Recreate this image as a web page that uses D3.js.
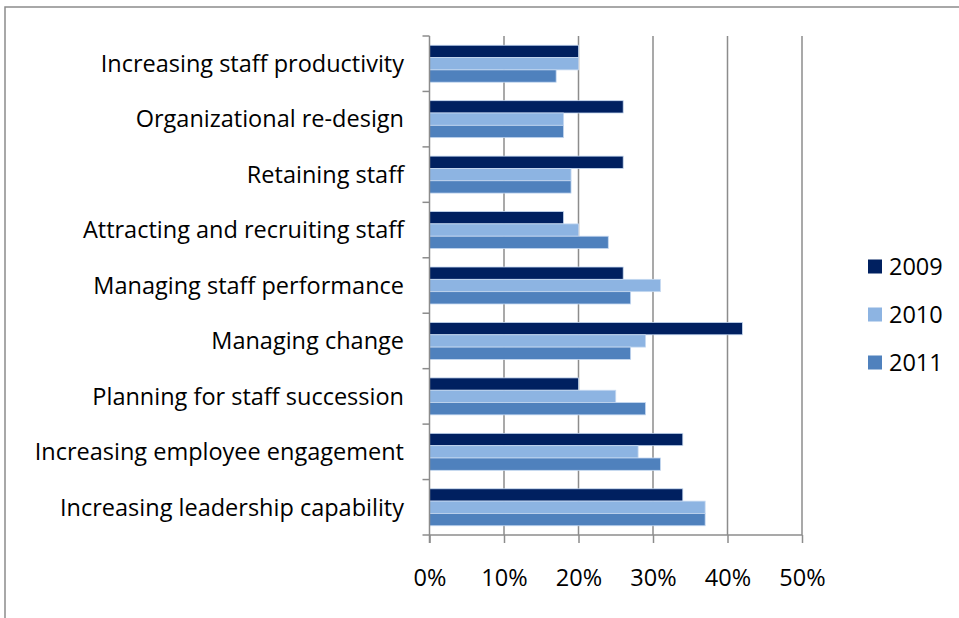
<!DOCTYPE html>
<html>
<head>
<meta charset="utf-8">
<script src="https://cdn.jsdelivr.net/npm/d3@7"></script>
<style>
  html, body { margin: 0; padding: 0; background: #fff; }
  svg text { font-family: "Open Sans", Lato, sans-serif; fill: #000; }
</style>
</head>
<body>
<svg id="chart" width="959" height="618"></svg>
<script>
const categories = [
  "Increasing staff productivity",
  "Organizational re-design",
  "Retaining staff",
  "Attracting and recruiting staff",
  "Managing staff performance",
  "Managing change",
  "Planning for staff succession",
  "Increasing employee engagement",
  "Increasing leadership capability"
];
const seriesNames = ["2009", "2010", "2011"];
const values2009 = [20, 26, 26, 18, 26, 42, 20, 34, 34];
const values2010 = [20, 18, 19, 20, 31, 29, 25, 28, 37];
const values2011 = [17, 18, 19, 24, 27, 27, 29, 31, 37];
const seriesColors = ["#002060", "#8DB4E2", "#4F81BD"];
const xTicks = [0, 10, 20, 30, 40, 50];

const series = [values2009, values2010, values2011];
const fontSize = 23.5;

const svg = d3.select("#chart");

// outer frame of the chart area
svg.append("rect")
  .attr("x", 5).attr("y", 7)
  .attr("width", 1000).attr("height", 700)
  .attr("fill", "none").attr("stroke", "#8c8c8c").attr("stroke-width", 1.5);

const plot = { left: 429.5, right: 802, top: 36, bottom: 535 };

const x = d3.scaleLinear().domain([0, 50]).range([plot.left, plot.right]);
const y = d3.scaleBand().domain(categories).range([plot.top, plot.bottom]).paddingInner(0).paddingOuter(0);
// three bars per group, with a gap of 1.5 bar widths between groups
const inner = d3.scaleBand().domain(seriesNames).range([0, y.bandwidth()]).paddingInner(0).paddingOuter(0.75);

// vertical gridlines
svg.append("g").selectAll("line")
  .data(xTicks.slice(1))
  .join("line")
  .attr("x1", d => x(d)).attr("x2", d => x(d))
  .attr("y1", plot.top).attr("y2", plot.bottom)
  .attr("stroke", "#8c8c8c").attr("stroke-width", 1.5);

// bars
const groups = svg.append("g").selectAll("g")
  .data(categories)
  .join("g")
  .attr("transform", d => `translate(0,${y(d)})`);

groups.selectAll("rect")
  .data((c, i) => seriesNames.map((s, j) => ({ s, j, v: series[j][i] })))
  .join("rect")
  .attr("x", x(0))
  .attr("y", d => inner(d.s))
  .attr("width", d => x(d.v) - x(0))
  .attr("height", inner.bandwidth())
  .attr("fill", d => seriesColors[d.j])
  .attr("stroke", "#c6d9f1").attr("stroke-width", 0.8);

// x axis
const xAxis = d3.axisBottom(x)
  .tickValues(xTicks)
  .tickFormat(d => d + "%")
  .tickSize(8)
  .tickPadding(26);
const gx = svg.append("g")
  .attr("transform", `translate(0,${plot.bottom})`)
  .call(xAxis);
gx.select(".domain").attr("stroke", "#8c8c8c").attr("stroke-width", 1.5)
  .attr("d", `M${plot.left - 7},0H${plot.right}`);
gx.selectAll(".tick line").attr("stroke", "#8c8c8c").attr("stroke-width", 1.5);
gx.selectAll(".tick text").attr("font-size", fontSize).attr("font-family", "'Open Sans', Lato, sans-serif");

// y axis line with ticks at category boundaries
const gy = svg.append("g");
gy.append("line")
  .attr("x1", plot.left).attr("x2", plot.left)
  .attr("y1", plot.top).attr("y2", plot.bottom + 8)
  .attr("stroke", "#8c8c8c").attr("stroke-width", 1.5);
gy.selectAll("line.tk")
  .data(categories)
  .join("line").attr("class", "tk")
  .attr("x1", plot.left - 7).attr("x2", plot.left)
  .attr("y1", d => y(d)).attr("y2", d => y(d))
  .attr("stroke", "#8c8c8c").attr("stroke-width", 1.5);

// category labels
svg.append("g").selectAll("text")
  .data(categories)
  .join("text")
  .attr("x", 404)
  .attr("y", d => y(d) + y.bandwidth() / 2)
  .attr("dy", "0.35em")
  .attr("text-anchor", "end")
  .attr("font-size", fontSize)
  .text(d => d);

// legend
const legend = svg.append("g").selectAll("g")
  .data(seriesNames)
  .join("g")
  .attr("transform", (d, i) => `translate(868,${266.5 + i * 48})`);
legend.append("rect")
  .attr("x", 0).attr("y", -7)
  .attr("width", 14).attr("height", 14)
  .attr("fill", (d, i) => seriesColors[i]);
legend.append("text")
  .attr("x", 21).attr("y", 0).attr("dy", "0.35em")
  .attr("font-size", fontSize)
  .text(d => d);
</script>
</body>
</html>
